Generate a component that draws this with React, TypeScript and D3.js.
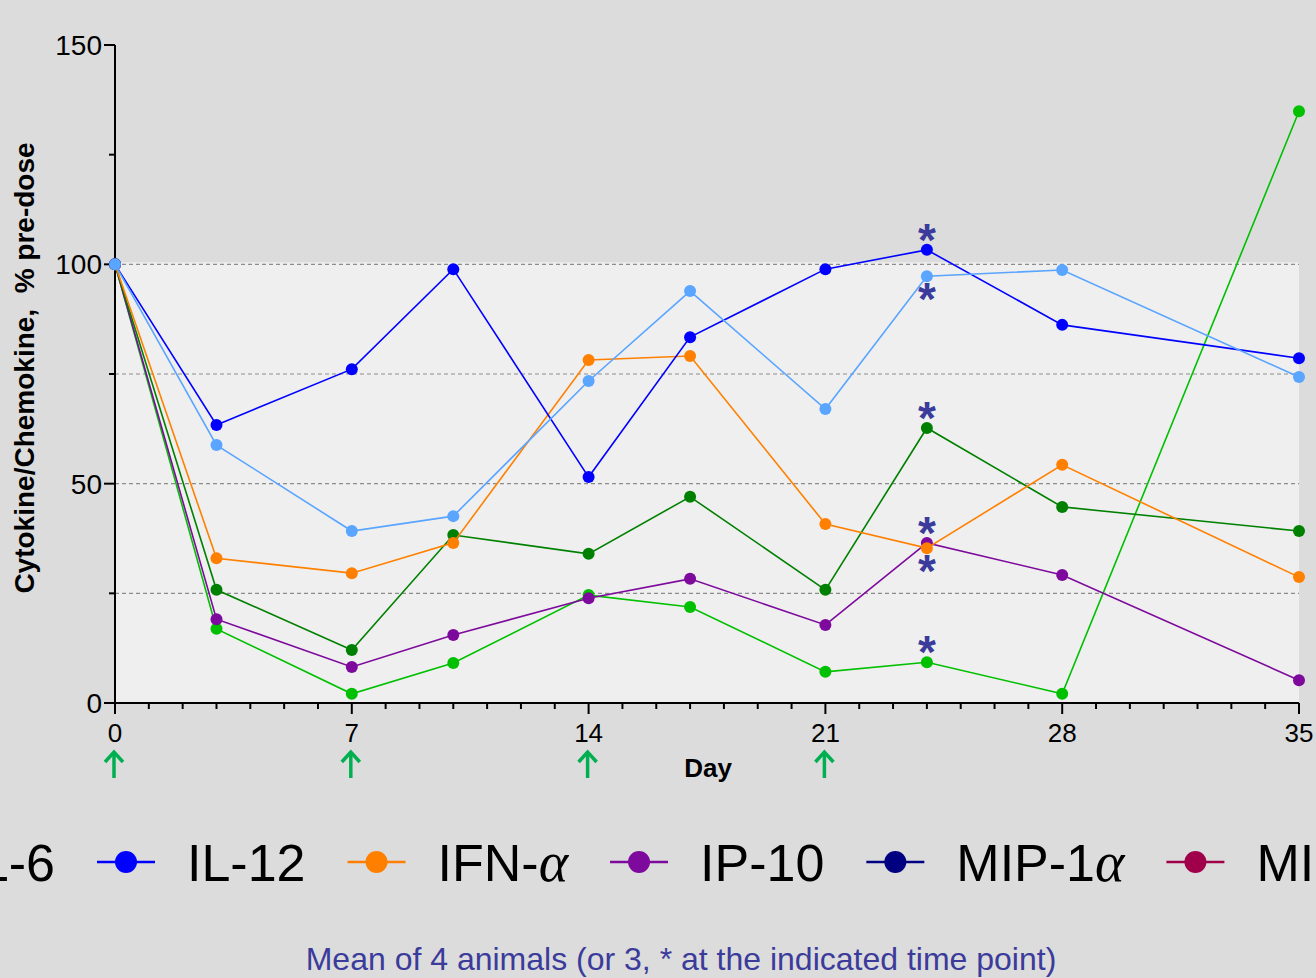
import React, { useEffect, useRef } from 'react';
import * as d3 from 'd3';

// Study days and mean values (% of pre-dose)
const days = [0, 3, 7, 10, 14, 17, 21, 24, 28, 35];
const il12 = [100, 63.4, 76.1, 98.9, 51.5, 83.4, 98.9, 103.3, 86.2, 78.6];
const il6 = [100, 58.8, 39.2, 42.6, 73.4, 93.9, 67.0, 97.3, 98.7, 74.3];
const ifnAlpha = [100, 33.0, 29.6, 36.5, 78.2, 79.1, 40.8, 35.3, 54.3, 28.7];
const mcp1 = [100, 25.8, 12.1, 38.3, 34.0, 47.0, 25.8, 62.7, 44.7, 39.2];
const ip10 = [100, 19.1, 8.2, 15.5, 23.9, 28.3, 17.8, 36.5, 29.2, 5.2];
const tnfAlpha = [100, 16.9, 2.1, 9.1, 24.6, 21.9, 7.1, 9.3, 2.1, 134.9];

const yTicks = [0, 50, 100, 150];
const yMinorTicks = [25, 75, 125];
const xTicks = [0, 7, 14, 21, 28, 35];
const gridLines = [25, 50, 75, 100];
const doseDays = [0, 7, 14, 21];

// draw order: last one ends up on top
const series = [
  { name: 'TNF-α', values: tnfAlpha, color: '#00c000' },
  { name: 'IP-10', values: ip10, color: '#7d0a9c' },
  { name: 'MCP-1', values: mcp1, color: '#008000' },
  { name: 'IFN-α', values: ifnAlpha, color: '#ff8000' },
  { name: 'IL-12', values: il12, color: '#0000ff' },
  { name: 'IL-6', values: il6, color: '#5aa5ff' },
];

// n = 3 at these points; side: -1 above the marker, 1 below
const starNotes = [
  { name: 'IL-12', day: 24, side: -1 },
  { name: 'IL-6', day: 24, side: 1 },
  { name: 'MCP-1', day: 24, side: -1 },
  { name: 'IP-10', day: 24, side: -1 },
  { name: 'IFN-α', day: 24, side: 1 },
  { name: 'TNF-α', day: 24, side: -1 },
];

const legendItems = [
  { label: 'IL-6', color: '#5aa5ff' },
  { label: 'IL-12', color: '#0000ff' },
  { label: 'IFN-', greek: 'α', color: '#ff8000' },
  { label: 'IP-10', color: '#7d0a9c' },
  { label: 'MIP-1', greek: 'α', color: '#000080' },
  { label: 'MIP-1', greek: 'β', color: '#a0004a' },
];

const App = () => {
  const ref = useRef<SVGSVGElement>(null);

  useEffect(() => {
    document.body.style.margin = '0';
    const svg = d3.select(ref.current);
    svg.selectAll('*').remove();

    const width = 1316;
    const height = 978;
    const margin = { top: 45, right: 17, bottom: 275, left: 115 };
    const font = 'Liberation Sans, Arial, sans-serif';
    const noteColor = '#3b3b9b';

    const x = d3.scaleLinear()
      .domain([0, 35])
      .range([margin.left, width - margin.right]);
    const y = d3.scaleLinear()
      .domain([0, 150])
      .range([height - margin.bottom, margin.top]);

    svg.append('rect')
      .attr('width', width)
      .attr('height', height)
      .attr('fill', '#dcdcdc');

    // lighter band below 100 %
    svg.append('rect')
      .attr('x', x(0))
      .attr('y', y(100) - 2)
      .attr('width', x(35) - x(0))
      .attr('height', y(0) - y(100) + 2)
      .attr('fill', '#efefef');

    svg.append('g')
      .selectAll('line')
      .data(gridLines)
      .enter().append('line')
      .attr('x1', x(0))
      .attr('x2', x(35))
      .attr('y1', d => y(d))
      .attr('y2', d => y(d))
      .attr('stroke', '#8c8c8c')
      .attr('stroke-width', 1.2)
      .attr('stroke-dasharray', '4,3');

    // Axes
    const yAxis = svg.append('g');
    yAxis.append('line')
      .attr('x1', x(0)).attr('x2', x(0))
      .attr('y1', y(150)).attr('y2', y(0))
      .attr('stroke', '#000').attr('stroke-width', 2);
    yAxis.selectAll('.major')
      .data(yTicks)
      .enter().append('line')
      .attr('x1', x(0) - 11).attr('x2', x(0))
      .attr('y1', d => y(d)).attr('y2', d => y(d))
      .attr('stroke', '#000').attr('stroke-width', 2);
    yAxis.selectAll('.minor')
      .data(yMinorTicks)
      .enter().append('line')
      .attr('x1', x(0) - 6).attr('x2', x(0))
      .attr('y1', d => y(d)).attr('y2', d => y(d))
      .attr('stroke', '#000').attr('stroke-width', 2);
    yAxis.selectAll('text')
      .data(yTicks)
      .enter().append('text')
      .attr('x', x(0) - 13)
      .attr('y', d => y(d) + 10)
      .attr('text-anchor', 'end')
      .attr('font-family', font)
      .attr('font-size', 28)
      .text(d => d);

    const xAxis = svg.append('g');
    xAxis.append('line')
      .attr('x1', x(0)).attr('x2', x(35))
      .attr('y1', y(0)).attr('y2', y(0))
      .attr('stroke', '#000').attr('stroke-width', 2);
    xAxis.selectAll('.minor')
      .data(d3.range(0, 36))
      .enter().append('line')
      .attr('x1', d => x(d)).attr('x2', d => x(d))
      .attr('y1', y(0))
      .attr('y2', d => y(0) + (d % 7 === 0 ? 11 : 6))
      .attr('stroke', '#000').attr('stroke-width', 2);
    xAxis.selectAll('text')
      .data(xTicks)
      .enter().append('text')
      .attr('x', d => x(d))
      .attr('y', y(0) + 39)
      .attr('text-anchor', 'middle')
      .attr('font-family', font)
      .attr('font-size', 26)
      .text(d => d);

    svg.append('text')
      .attr('x', 708)
      .attr('y', 777)
      .attr('text-anchor', 'middle')
      .attr('font-family', font)
      .attr('font-weight', 'bold')
      .attr('font-size', 26)
      .text('Day');

    svg.append('text')
      .attr('transform', 'translate(34,368) rotate(-90)')
      .attr('text-anchor', 'middle')
      .attr('font-family', font)
      .attr('font-weight', 'bold')
      .attr('font-size', 28)
      .attr('xml:space', 'preserve')
      .text('Cytokine/Chemokine,  % pre-dose');

    // dosing arrows
    const arrows = svg.append('g')
      .attr('stroke', '#00b050')
      .attr('stroke-width', 3.5)
      .attr('fill', 'none');
    doseDays.forEach(d => {
      const ax = x(d) - 1;
      arrows.append('line')
        .attr('x1', ax).attr('x2', ax)
        .attr('y1', 778).attr('y2', 752);
      arrows.append('path')
        .attr('d', `M${ax - 9},${762} L${ax},${752} L${ax + 9},${762}`);
    });

    // Lines and markers
    const line = d3.line<number>()
      .x((_, i) => x(days[i]))
      .y(d => y(d));

    series.forEach(s => {
      const g = svg.append('g');
      g.append('path')
        .datum(s.values)
        .attr('d', line)
        .attr('fill', 'none')
        .attr('stroke', s.color)
        .attr('stroke-width', 1.6);
      g.selectAll('circle')
        .data(s.values)
        .enter().append('circle')
        .attr('cx', (_, i) => x(days[i]))
        .attr('cy', d => y(d))
        .attr('r', 6)
        .attr('fill', s.color);
    });

    // asterisks
    starNotes.forEach(n => {
      const s = series.find(v => v.name === n.name);
      if (!s) return;
      const v = s.values[days.indexOf(n.day)];
      const cy = y(v) + (n.side < 0 ? -14 : 19);
      svg.append('text')
        .attr('x', x(n.day))
        .attr('y', cy + 20)
        .attr('text-anchor', 'middle')
        .attr('font-family', font)
        .attr('font-weight', 'bold')
        .attr('font-size', 46)
        .attr('fill', noteColor)
        .text('*');
    });

    // Legend, laid out from the IL-12 entry (first fully visible one)
    const legendY = 862;
    const lineLen = 58;
    const textGap = 32;
    const itemGap = 42;
    const legend = svg.append('g');
    const widths: number[] = [];
    const groups = legendItems.map(item => {
      const g = legend.append('g');
      g.append('line')
        .attr('x1', 0).attr('x2', lineLen)
        .attr('y1', legendY).attr('y2', legendY)
        .attr('stroke', item.color)
        .attr('stroke-width', 2.5);
      g.append('circle')
        .attr('cx', lineLen / 2)
        .attr('cy', legendY)
        .attr('r', 11)
        .attr('fill', item.color);
      const t = g.append('text')
        .attr('x', lineLen + textGap)
        .attr('y', legendY + 19)
        .attr('font-family', font)
        .attr('font-size', 52)
        .text(item.label);
      if (item.greek) {
        t.append('tspan')
          .attr('font-family', 'Liberation Serif, DejaVu Serif, serif')
          .attr('font-style', 'italic')
          .attr('font-size', 56)
          .text(item.greek);
      }
      widths.push(lineLen + textGap + (t.node() as SVGTextElement).getComputedTextLength());
      return g;
    });
    const startIdx = 1;
    const pos: number[] = [];
    pos[startIdx] = 97;
    for (let i = startIdx + 1; i < groups.length; i++) {
      pos[i] = pos[i - 1] + widths[i - 1] + itemGap;
    }
    for (let i = startIdx - 1; i >= 0; i--) {
      pos[i] = pos[i + 1] - itemGap - widths[i];
    }
    groups.forEach((g, i) => g.attr('transform', `translate(${pos[i]},0)`));

    svg.append('text')
      .attr('x', 681)
      .attr('y', 970)
      .attr('text-anchor', 'middle')
      .attr('font-family', font)
      .attr('font-size', 32)
      .attr('fill', noteColor)
      .text('Mean of 4 animals (or 3, * at the indicated time point)');
  }, []);

  return (
    <svg ref={ref} width={1316} height={978} style={{ display: 'block' }}></svg>
  );
};

export default App;
